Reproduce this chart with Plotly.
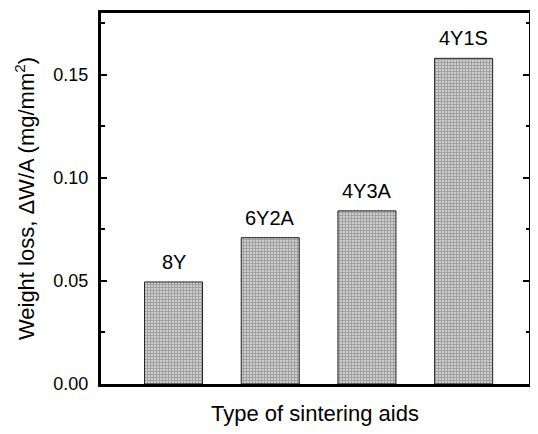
import plotly.graph_objects as go

categories = ["8Y", "6Y2A", "4Y3A", "4Y1S"]
weight_loss = [0.0495, 0.071, 0.084, 0.158]
y_ticks = [0.00, 0.05, 0.10, 0.15]
y_tick_labels = ["0.00", "0.05", "0.10", "0.15"]

xpos = list(range(len(categories)))

fig = go.Figure()
fig.add_trace(go.Bar(
    x=xpos, y=weight_loss, width=0.6,
    marker=dict(
        color="#ffffff",
        line=dict(color="#222222", width=1),
        pattern=dict(shape="+", fgcolor="#6a6a6a", bgcolor="#cdcdcd", size=3, solidity=0.5),
    ),
    showlegend=False,
))

for xi, v, c in zip(xpos, weight_loss, categories):
    fig.add_annotation(x=xi, y=v, text=c, showarrow=False, yanchor="bottom",
                       yshift=7, font=dict(size=20, color="black"))

fig.update_layout(
    width=522, height=418,
    margin=dict(l=93, r=1, t=5, b=42, autoexpand=False),
    paper_bgcolor="white", plot_bgcolor="white",
    font=dict(family="Liberation Sans, Arial, sans-serif", color="black"),
    bargap=0.4,
)
fig.update_xaxes(
    range=[-0.75, 3.676], showticklabels=False, ticks="",
    showline=True, linecolor="black", linewidth=3, mirror=True,
    showgrid=False, zeroline=False, automargin=False,
    title=dict(text="Type of sintering aids", font=dict(size=22), standoff=29),
)
fig.update_yaxes(
    range=[0, 0.18], tickvals=y_ticks, ticktext=y_tick_labels,
    ticks="inside", ticklen=6, tickwidth=2, tickcolor="black",
    minor=dict(dtick=0.025, tick0=0, ticks="inside", ticklen=3.5, tickwidth=2, tickcolor="black"),
    showline=True, linecolor="black", linewidth=3, mirror="ticks",
    showgrid=False, zeroline=False, automargin=False,
    tickfont=dict(size=18), ticklabelstandoff=6,
    title=dict(text="Weight loss, ΔW/A (mg/mm<sup>2</sup>)", font=dict(size=22), standoff=13),
)

fig.write_html("out.html")
